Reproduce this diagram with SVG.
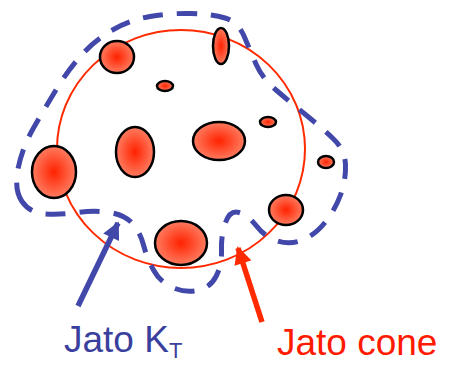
<svg xmlns="http://www.w3.org/2000/svg" width="453" height="365" viewBox="0 0 453 365">
<style>
.blob{fill:url(#rg);stroke:#000;stroke-width:2.5}
.cone{fill:none;stroke:#FF2A00;stroke-width:2}
.kt{fill:none;stroke:#4248AA;stroke-width:5;stroke-dasharray:20 14}
.lblB{font-family:"Liberation Sans",Arial,sans-serif;fill:#3A3F9E}
.lblR{font-family:"Liberation Sans",Arial,sans-serif;fill:#FF1A00}
</style>
<defs>
<radialGradient id="rg" cx="0.5" cy="0.5" r="0.5">
<stop offset="0" stop-color="#FF2200"/>
<stop offset="1" stop-color="#FF7C60"/>
</radialGradient>
<marker id="ab" viewBox="0 0 10 10" refX="9" refY="5" markerWidth="3.6" markerHeight="3.2" orient="auto" markerUnits="strokeWidth">
<path d="M0,0 L10,5 L0,10 Z" fill="#4248AA"/>
</marker>
<marker id="ar" viewBox="0 0 10 10" refX="9" refY="5" markerWidth="3.6" markerHeight="3.2" orient="auto" markerUnits="strokeWidth">
<path d="M0,0 L10,5 L0,10 Z" fill="#FF2A00"/>
</marker>
</defs>
<g id="cone"><ellipse class="cone" cx="181" cy="149" rx="124" ry="119"/></g>
<g id="blobs">
<ellipse id="b1" class="blob" cx="117" cy="57" rx="17" ry="16"/>
<ellipse id="b2" class="blob" cx="221" cy="46" rx="8" ry="18"/>
<ellipse id="b3" class="blob" cx="165" cy="86" rx="8" ry="5"/>
<ellipse id="b4" class="blob" cx="135" cy="152" rx="19" ry="25"/>
<ellipse id="b5" class="blob" cx="219" cy="141" rx="26" ry="19"/>
<ellipse id="b6" class="blob" cx="268" cy="122" rx="8" ry="5"/>
<ellipse id="b7" class="blob" cx="326" cy="162" rx="8" ry="6"/>
<ellipse id="b8" class="blob" cx="54" cy="172" rx="22" ry="26"/>
<ellipse id="b9" class="blob" cx="286" cy="210" rx="17" ry="15"/>
<ellipse id="b10" class="blob" cx="181" cy="243" rx="26" ry="22"/>
</g>
<g id="jetKT">
<path class="kt" d="M22,201.5 Q14,190 18,169 Q22,148 33.5,128 Q45,108 56.5,89 Q68,70 81.5,55 Q95,40 112.5,30 Q130,20 150,16.5 Q170,13 191,13.5 Q212,14 225,18 Q238,22 244,36 Q250,50 256,64 Q262,78 276,90 Q290,102 306,115 Q322,128 333.5,139 Q345,150 345.5,165 Q346,180 340.5,195 Q335,210 325,222.5 Q315,235 302.5,240 Q290,245 277.5,241 Q265,237 256.5,226 Q248,215 239,212.5 Q230,210 225.5,222.5 Q221,235 221.5,250 Q222,265 216,276.5 Q210,288 197.5,290.5 Q185,293 172.5,287.5 Q160,282 153.5,270 Q147,258 143.5,245 Q140,232 132.5,223.5 Q125,215 110,212.5 Q95,210 77.5,212.5 Q60,215 45,214 Q30,213 22,201.5 Z"/>
</g>
<g id="connectors">
<line x1="78" y1="306" x2="118" y2="223" stroke="#4248AA" stroke-width="5.5" marker-end="url(#ab)"/>
<line x1="262" y1="322" x2="238" y2="248" stroke="#FF2A00" stroke-width="5.5" marker-end="url(#ar)"/>
</g>
<g id="labels">
<text class="lblB" x="64" y="352" font-size="37">Jato K<tspan font-size="22" dy="6">T</tspan></text>
<text class="lblR" x="277" y="355" font-size="37">Jato cone</text>
</g>
</svg>
